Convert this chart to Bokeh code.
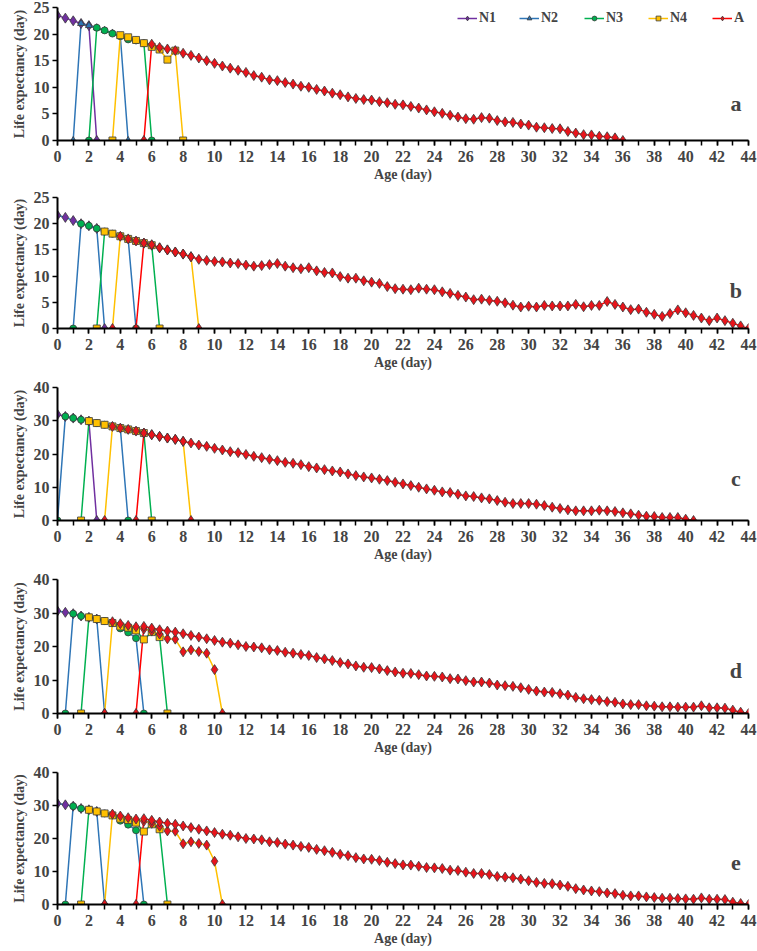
from bokeh.plotting import figure
from bokeh.layouts import column
from bokeh.models import Legend, LegendItem, SingleIntervalTicker, Range1d, Label
from bokeh.embed import file_html
from bokeh.resources import INLINE

# ---------------- data (life expectancy, day; ages every 0.5 day from a start age) ----------------
AGE_STEP = 0.5
X_MAX = 44
SERIES_NAMES = ["N1", "N2", "N3", "N4", "A"]

# panel a
a_n1_start, a_n1 = 0.0, [23.5, 23.0, 22.5, 22.0, 21.6, 0]
a_n2_start, a_n2 = 1.0, [0, 22.0, 21.6, 21.2, 20.7, 20.2, 19.6, 0]
a_n3_start, a_n3 = 2.0, [0, 21.2, 20.7, 20.1, 19.6, 19.0, 18.8, 18.3, 0]
a_n4_start, a_n4 = 3.5, [0, 19.8, 19.4, 18.9, 18.3, 17.6, 17.1, 15.2, 16.9, 0]
a_a_start, a_a = 5.5, [0, 18.1, 17.5, 17.2, 16.9, 16.4, 16.0, 15.5, 15.0, 14.5, 14.0, 13.6, 13.2, 12.8,
                       12.2, 11.9, 11.4, 11.25, 10.9, 10.6, 10.2, 10.0, 9.6, 9.3, 8.9, 8.6, 8.2, 7.9, 7.7,
                       7.6, 7.3, 7.1, 6.8, 6.7, 6.4, 6.1, 5.75, 5.4, 5.1, 4.75, 4.4, 4.1, 4.0, 4.3, 4.2,
                       3.75, 3.5, 3.4, 3.1, 2.9, 2.5, 2.4, 2.25, 2.2, 1.7, 1.4, 1.1, 1.05, 0.8, 0.7, 0.5, 0]

# panel b
b_n1_start, b_n1 = 0.0, [21.6, 21.2, 20.6, 20.0, 19.6, 19.1, 0]
b_n2_start, b_n2 = 1.0, [0, 20.0, 19.6, 19.1, 18.5, 18.1, 17.6, 17.1, 0]
b_n3_start, b_n3 = 2.5, [0, 18.5, 18.1, 17.6, 17.1, 16.7, 16.3, 15.9, 0]
b_n4_start, b_n4 = 3.5, [0, 17.6, 17.1, 16.7, 16.3, 15.9, 15.4, 15.0, 14.6, 14.2, 13.7, 0]
b_a_start, b_a = 5.0, [0, 16.3, 16.0, 15.4, 15.0, 14.6, 14.2, 13.7, 13.2, 13.0, 12.8, 12.7, 12.5, 12.4,
                       12.1, 11.9, 12.0, 12.2, 12.4, 11.9, 11.6, 11.4, 11.6, 11.0, 10.7, 10.6, 9.9, 9.6,
                       9.6, 9.1, 8.85, 8.6, 8.0, 7.6, 7.5, 7.4, 7.7, 7.5, 7.4, 7.0, 6.7, 6.3, 6.0, 5.5,
                       5.6, 5.35, 5.2, 4.9, 4.45, 4.1, 4.25, 4.1, 4.4, 4.3, 4.3, 4.3, 4.6, 4.15, 4.4, 4.4,
                       5.15, 4.6, 4.1, 3.6, 3.7, 3.1, 2.7, 2.3, 2.85, 3.55, 3.0, 2.5, 2.0, 1.5, 2.0, 1.5,
                       1.0, 0.5, 0]

# panel c
c_n1_start, c_n1 = 0.0, [31.9, 31.3, 30.8, 30.3, 29.9, 0]
c_n2_start, c_n2 = 0.0, [0, 31.3, 30.8, 30.3, 29.9, 29.3, 28.8, 28.3, 27.8, 0]
c_n3_start, c_n3 = 1.5, [0, 29.9, 29.3, 28.8, 28.3, 27.8, 27.4, 26.9, 26.3, 0]
c_n4_start, c_n4 = 3.0, [0, 28.3, 27.8, 27.4, 26.9, 26.3, 25.8, 25.3, 24.8, 24.4, 23.8, 0]
c_a_start, c_a = 5.0, [0, 26.3, 25.8, 25.3, 24.8, 24.4, 23.8, 23.3, 22.7, 22.3, 21.7, 21.2, 20.7, 20.4,
                       19.85, 19.3, 18.9, 18.4, 18.0, 17.5, 17.2, 16.8, 16.2, 15.8, 15.3, 14.9, 14.6, 14.0,
                       13.5, 13.1, 12.8, 12.4, 12.0, 11.5, 11.0, 10.5, 10.0, 9.5, 9.1, 8.6, 8.4, 7.9, 7.4,
                       7.2, 6.8, 6.5, 6.0, 5.5, 5.1, 5.1, 5.1, 4.9, 4.5, 4.0, 3.6, 3.2, 2.9, 2.9, 2.9, 3.1,
                       2.9, 2.7, 2.3, 2.0, 1.6, 1.3, 1.2, 0.9, 0.9, 0.9, 0.4, 0]

# panel d
d_n1_start, d_n1 = 0.0, [30.6, 30.2, 29.8, 29.1, 28.7, 28.2, 0]
d_n2_start, d_n2 = 0.5, [0, 29.8, 29.1, 28.7, 28.2, 27.6, 27.0, 25.4, 24.2, 22.5, 0]
d_n3_start, d_n3 = 1.5, [0, 28.7, 28.2, 27.6, 27.0, 26.0, 25.6, 24.8, 22.1, 24.3, 22.8, 0]
d_n4_start, d_n4 = 3.0, [0, 27.4, 26.8, 26.3, 25.9, 25.2, 24.6, 23.7, 22.3, 22.2, 18.4, 19.0, 18.5,
                         18.0, 13.1, 0]
d_a_start, d_a = 5.0, [0, 26.0, 25.5, 25.0, 24.6, 24.3, 23.8, 23.3, 22.8, 22.3, 21.8, 21.3, 21.0, 20.5,
                       20.0, 19.85, 19.6, 19.0, 18.8, 18.3, 18.0, 17.6, 17.3, 16.7, 16.3, 15.8, 15.2, 14.8,
                       14.2, 13.8, 13.7, 13.3, 12.8, 12.4, 12.0, 11.95, 11.6, 11.2, 11.1, 10.9, 10.4, 10.3,
                       9.8, 9.4, 9.4, 9.1, 8.5, 8.3, 8.1, 7.7, 7.2, 6.7, 6.4, 6.3, 5.9, 5.5, 4.8, 4.4, 4.15,
                       3.95, 3.55, 3.35, 2.85, 2.65, 2.65, 2.3, 2.2, 2.0, 2.0, 1.9, 1.9, 1.9, 2.3, 1.7, 1.7,
                       1.6, 1.0, 0.4, 0]

# panel e (reads almost the same as panel d)
e_n1_start, e_n1 = 0.0, [30.6, 30.2, 29.8, 29.1, 28.7, 28.2, 0]
e_n2_start, e_n2 = 0.5, [0, 29.8, 29.1, 28.7, 28.2, 27.6, 27.0, 25.4, 24.2, 22.5, 0]
e_n3_start, e_n3 = 1.5, [0, 28.7, 28.2, 27.6, 27.0, 26.0, 25.6, 24.8, 22.1, 24.3, 22.8, 0]
e_n4_start, e_n4 = 3.0, [0, 27.4, 26.8, 26.3, 25.9, 25.2, 24.6, 23.7, 22.3, 22.2, 18.4, 19.0, 18.5,
                         18.0, 13.1, 0]
e_a_start, e_a = 5.0, [0, 26.0, 25.5, 25.0, 24.6, 24.3, 23.8, 23.3, 22.8, 22.3, 21.8, 21.3, 21.0, 20.5,
                       20.0, 19.85, 19.6, 19.0, 18.8, 18.3, 18.0, 17.6, 17.3, 16.7, 16.3, 15.8, 15.2, 14.8,
                       14.2, 13.8, 13.7, 13.3, 12.8, 12.4, 12.0, 11.95, 11.6, 11.2, 11.1, 10.9, 10.4, 10.3,
                       9.8, 9.4, 9.4, 9.1, 8.5, 8.3, 8.1, 7.7, 7.2, 6.7, 6.4, 6.3, 5.9, 5.5, 4.8, 4.4, 4.1,
                       3.9, 3.5, 3.3, 2.8, 2.6, 2.6, 2.3, 2.1, 1.9, 1.9, 1.8, 1.7, 1.6, 2.0, 1.6, 1.6,
                       1.5, 0.7, 0.3, 0]

# ---------------- styles ----------------
LINE_COLOR = {"N1": "#7030A0", "N2": "#2E75B6", "N3": "#00B050", "N4": "#FFC000", "A": "#FF0000"}
MARKER = {
    "N1": dict(marker="diamond", size=10, fill_color="#7030A0"),
    "N2": dict(marker="triangle", size=7, fill_color="#2E75B6"),
    "N3": dict(marker="circle", size=7, fill_color="#00B050"),
    "N4": dict(marker="square", size=7, fill_color="#FFC000"),
    "A": dict(marker="diamond", size=10, fill_color="#E8141B"),
}
FONT = "Liberation Serif"

# (line style key, marker style key, start age, values)
PANELS = [
    dict(letter="a", ymax=25, ytick=5, letter_y=7.0, series=[
        ("N1", "N1", a_n1_start, a_n1), ("N2", "N2", a_n2_start, a_n2), ("N3", "N3", a_n3_start, a_n3),
        ("N4", "N4", a_n4_start, a_n4), ("A", "A", a_a_start, a_a)]),
    dict(letter="b", ymax=25, ytick=5, letter_y=7.2, series=[
        ("N2", "N1", b_n1_start, b_n1), ("N2", "N3", b_n2_start, b_n2), ("N3", "N4", b_n3_start, b_n3),
        ("N4", "A", b_n4_start, b_n4), ("A", "A", b_a_start, b_a)]),
    dict(letter="c", ymax=40, ytick=10, letter_y=12.6, series=[
        ("N1", "N1", c_n1_start, c_n1), ("N2", "N3", c_n2_start, c_n2), ("N3", "N4", c_n3_start, c_n3),
        ("N4", "A", c_n4_start, c_n4), ("A", "A", c_a_start, c_a)]),
    dict(letter="d", ymax=40, ytick=10, letter_y=12.8, series=[
        ("N2", "N1", d_n1_start, d_n1), ("N2", "N3", d_n2_start, d_n2), ("N3", "N4", d_n3_start, d_n3),
        ("N4", "A", d_n4_start, d_n4), ("A", "A", d_a_start, d_a)]),
    dict(letter="e", ymax=40, ytick=10, letter_y=12.7, series=[
        ("N2", "N1", e_n1_start, e_n1), ("N2", "N3", e_n2_start, e_n2), ("N3", "N4", e_n3_start, e_n3),
        ("N4", "A", e_n4_start, e_n4), ("A", "A", e_a_start, e_a)]),
]

# figure geometry: (height, top border, bottom border)
GEOM = [(188, 7, 48), (190, 9, 50), (192, 9, 50), (193, 9, 50), (187, 9, 46)]
LEGEND_X = [400, 462, 527, 591, 655]


def make_panel(spec, geom, with_legend):
    h, bt, bb = geom
    p = figure(width=757, height=h, output_backend="svg", toolbar_location=None,
               x_range=Range1d(0, X_MAX), y_range=Range1d(0, spec["ymax"]),
               min_border_left=57, min_border_right=9, min_border_top=bt, min_border_bottom=bb)
    p.outline_line_color = None
    p.xgrid.visible = False
    p.ygrid.visible = False

    drawn = []
    for line_key, marker_key, start, vals in spec["series"]:
        ages = [start + AGE_STEP * i for i in range(len(vals))]
        lr = p.line(ages, vals, line_color=LINE_COLOR[line_key], line_width=1.5)
        drawn.append((ages, vals, marker_key, lr))
    renderers = []
    for ages, vals, marker_key, lr in drawn:
        m = MARKER[marker_key]
        mr = p.scatter(ages, vals, marker=m["marker"], size=m["size"],
                       fill_color=m["fill_color"], line_color="#3A3A3A", line_width=0.8)
        renderers.append((lr, mr))

    for ax in (p.xaxis, p.yaxis):
        ax.axis_line_width = 2
        ax.axis_line_color = "black"
        ax.major_tick_in = 0
        ax.major_tick_out = 5
        ax.minor_tick_in = 0
        ax.minor_tick_out = 5
        ax.major_tick_line_width = 1.5
        ax.minor_tick_line_width = 1.5
        ax.major_label_text_font = FONT
        ax.major_label_text_font_style = "bold"
        ax.major_label_text_font_size = "16px"
        ax.axis_label_text_font = FONT
        ax.axis_label_text_font_style = "bold"
        ax.axis_label_text_font_size = "14px"
    p.xaxis.ticker = SingleIntervalTicker(interval=2, num_minor_ticks=2)
    p.yaxis.ticker = SingleIntervalTicker(interval=spec["ytick"], num_minor_ticks=0)
    p.xaxis.axis_label = "Age (day)"
    p.yaxis.axis_label = "Life expectancy (day)"
    p.xaxis.major_label_standoff = 5
    p.xaxis.axis_label_standoff = 2
    p.yaxis.major_label_standoff = 3
    p.yaxis.axis_label_standoff = 4

    p.add_layout(Label(x=43.2, y=spec["letter_y"], text=spec["letter"], text_font=FONT,
                       text_font_style="bold", text_font_size="22px", text_align="center",
                       text_baseline="middle"))

    if with_legend:
        for name, (lr, mr), lx in zip(SERIES_NAMES, renderers, LEGEND_X):
            legend = Legend(items=[LegendItem(label=name, renderers=[lr, mr])], location=(lx, 114),
                            orientation="horizontal", padding=0, margin=0, spacing=0,
                            glyph_width=20, glyph_height=12, label_standoff=2,
                            background_fill_alpha=0, border_line_color=None,
                            label_text_font=FONT, label_text_font_style="bold",
                            label_text_font_size="14px")
            p.add_layout(legend)
    return p


figs = [make_panel(spec, g, i == 0) for i, (spec, g) in enumerate(zip(PANELS, GEOM))]
layout = column(*figs, spacing=0)
open("out.html", "w").write(file_html(layout, INLINE))
